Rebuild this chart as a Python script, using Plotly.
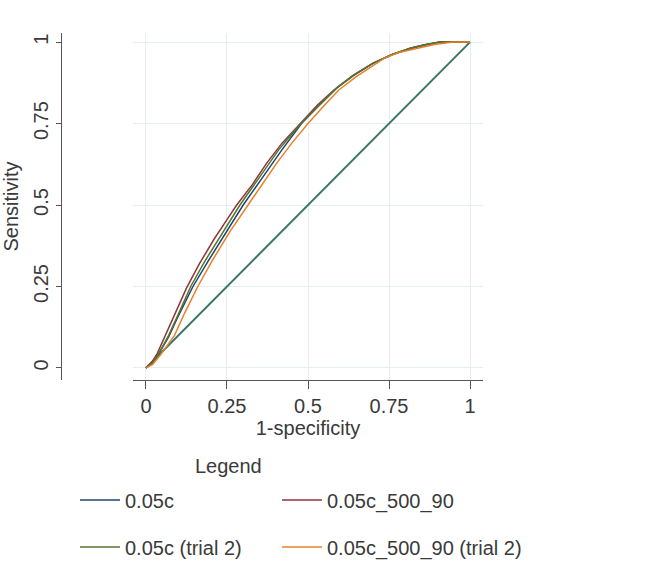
import plotly.graph_objects as go

# ---- data ----
blue_fpr = [0, 0.02, 0.04, 0.07, 0.10, 0.145, 0.19, 0.24, 0.30, 0.36, 0.42, 0.48, 0.54, 0.59, 0.64, 0.70, 0.76, 0.815, 0.86, 0.907, 1.0]
blue_tpr = [0, 0.015, 0.045, 0.095, 0.16, 0.25, 0.325, 0.405, 0.50, 0.585, 0.67, 0.75, 0.812, 0.86, 0.898, 0.935, 0.962, 0.981, 0.992, 1.0, 1.0]

red_fpr = [0, 0.02, 0.035, 0.06, 0.09, 0.125, 0.165, 0.21, 0.25, 0.28, 0.33, 0.372, 0.42, 0.475, 0.53, 0.58, 0.64, 0.70, 0.76, 0.82, 0.87, 0.91, 1.0]
red_tpr = [0, 0.02, 0.045, 0.10, 0.165, 0.245, 0.32, 0.395, 0.455, 0.50, 0.565, 0.628, 0.69, 0.75, 0.808, 0.853, 0.897, 0.935, 0.962, 0.981, 0.993, 1.0, 1.0]

green_fpr = [0, 0.02, 0.04, 0.07, 0.10, 0.138, 0.18, 0.23, 0.29, 0.35, 0.41, 0.478, 0.54, 0.59, 0.64, 0.70, 0.76, 0.815, 0.86, 0.907, 1.0]
green_tpr = [0, 0.015, 0.045, 0.10, 0.165, 0.25, 0.325, 0.405, 0.50, 0.585, 0.67, 0.75, 0.813, 0.861, 0.899, 0.935, 0.962, 0.981, 0.992, 1.0, 1.0]

orange_fpr = [0, 0.02, 0.045, 0.07, 0.088, 0.12, 0.16, 0.205, 0.26, 0.315, 0.36, 0.403, 0.45, 0.50, 0.545, 0.595, 0.65, 0.70, 0.735, 0.78, 0.836, 0.89, 0.948, 1.0]
orange_tpr = [0, 0.01, 0.04, 0.075, 0.10, 0.17, 0.25, 0.33, 0.42, 0.50, 0.565, 0.628, 0.69, 0.75, 0.80, 0.853, 0.895, 0.928, 0.95, 0.968, 0.981, 0.993, 1.0, 1.0]

ref_fpr = [0, 1]
ref_tpr = [0, 1]

series_names = ["0.05c", "0.05c_500_90", "0.05c (trial 2)", "0.05c_500_90 (trial 2)"]
x_ticks = [0, 0.25, 0.5, 0.75, 1]
x_tick_labels = ["0", "0.25", "0.5", "0.75", "1"]
y_ticks = [0, 0.25, 0.5, 0.75, 1]
y_tick_labels = ["0", "0.25", "0.5", "0.75", "1"]

colors = ["#1a476f", "#90353b", "#55752f", "#e8802a"]
ref_color = "#3b7566"

W, H = 672, 585
FONT = "Liberation Sans, Arial, sans-serif"
FS = 20
TXT = "#3a3a3a"

fig = go.Figure()

fig.add_trace(go.Scatter(x=ref_fpr, y=ref_tpr, mode="lines",
                         line=dict(color=ref_color, width=2), showlegend=False))

data = [(blue_fpr, blue_tpr), (red_fpr, red_tpr), (green_fpr, green_tpr), (orange_fpr, orange_tpr)]
legend_ids = ["legend", "legend2", "legend3", "legend4"]
for (fx, ty), name, c, lg in zip(data, series_names, colors, legend_ids):
    fig.add_trace(go.Scatter(x=fx, y=ty, mode="lines", name=name,
                             line=dict(color=c, width=1.5), legend=lg))

x0, x1 = 133 / W, 483 / W
y0, y1 = 1 - 380 / H, 1 - 33 / H

axis_common = dict(showgrid=True, gridcolor="#e7eeef", gridwidth=1, zeroline=False,
                   showline=True, linecolor="#555555", linewidth=1.2,
                   ticks="outside", tickcolor="#555555",
                   tickfont=dict(family=FONT, size=FS, color=TXT))

def leg(xpx, ypx):
    return dict(orientation="h", x=(xpx - 5) / W, xanchor="left", y=1 - ypx / H, yanchor="middle",
                itemwidth=40, font=dict(family=FONT, size=FS, color=TXT),
                bgcolor="rgba(0,0,0,0)")

fig.update_layout(
    width=W, height=H,
    margin=dict(l=0, r=0, t=0, b=0),
    paper_bgcolor="white", plot_bgcolor="white",
    font=dict(family=FONT, size=FS, color=TXT),
    xaxis=dict(domain=[x0, x1], range=[-0.04, 1.04], tickvals=x_ticks, ticktext=x_tick_labels,
               ticklen=8, title=dict(text="1-specificity", font=dict(family=FONT, size=FS, color=TXT), standoff=0),
               anchor="y", **axis_common),
    yaxis=dict(domain=[y0, y1], range=[-0.037, 1.028], tickvals=y_ticks, ticktext=y_tick_labels,
               ticklen=5, tickangle=-90, anchor="free", position=61 / W,
               title=dict(text="Sensitivity", font=dict(family=FONT, size=FS, color=TXT)),
               **axis_common),
    legend=leg(80, 500),
    legend2=leg(282, 500),
    legend3=leg(80, 547),
    legend4=leg(282, 547),
    annotations=[dict(text="Legend", x=228 / W, y=1 - 466 / H, xref="paper", yref="paper",
                      showarrow=False, xanchor="center", yanchor="middle",
                      font=dict(family=FONT, size=FS, color=TXT))],
)

fig.write_html("out.html")
